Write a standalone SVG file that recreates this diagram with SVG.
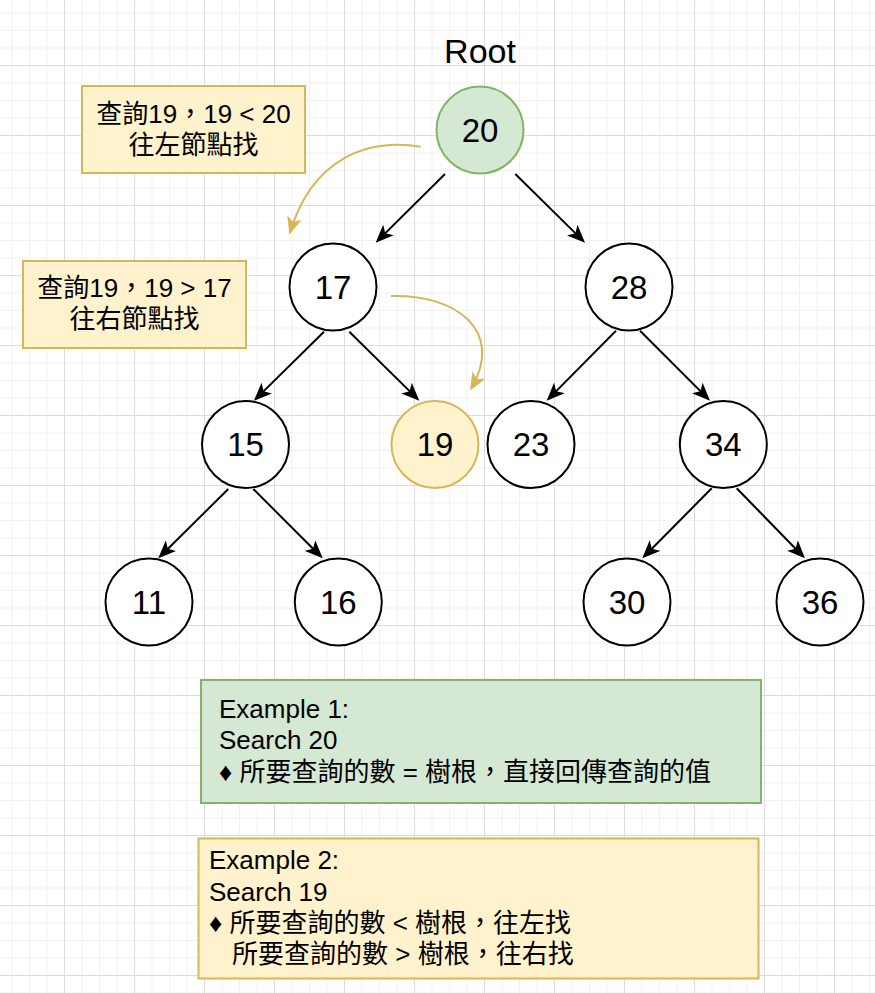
<svg xmlns="http://www.w3.org/2000/svg" width="875" height="993" viewBox="0 0 875 993">
  <defs>
    <style>
      .node { fill: #ffffff; stroke: #000000; stroke-width: 2; }
      .green { fill: #d5e8d4; stroke: #82b366; stroke-width: 2; }
      .yellow { fill: #fff2cc; stroke: #d6b656; stroke-width: 2; }
      .num { font-family: "Liberation Sans", Arial, sans-serif; font-size: 33px; fill: #000; text-anchor: middle; }
      .root { font-size: 34px; }
      .note { font-family: "Liberation Sans", Arial, "Noto Sans CJK TC", sans-serif; font-size: 26px; fill: #000; text-anchor: middle; }
      .body { font-family: "Liberation Sans", Arial, "Noto Sans CJK TC", sans-serif; font-size: 26px; fill: #000; }
      .edge { fill: none; stroke: #000000; stroke-width: 2; marker-end: url(#arrow); }
      .hint { fill: none; stroke: #d6b656; stroke-width: 2; marker-end: url(#arrowY); }
    </style>
    <pattern id="grid" width="70" height="70" patternUnits="userSpaceOnUse" x="64" y="65">
      <path d="M18,0V70M35.5,0V70M53,0V70M0,18H70M0,35.5H70M0,53H70" stroke="#f1f1f1" stroke-width="1" fill="none"/>
      <path d="M0.5,0V70M0,0.5H70" stroke="#dddddd" stroke-width="1" fill="none"/>
    </pattern>
    <marker id="arrow" markerUnits="userSpaceOnUse" viewBox="0 0 18 15" markerWidth="18" markerHeight="15" refX="15" refY="7.5" orient="auto">
      <path d="M0,0 L18,7.5 L0,15 L4.5,7.5 Z" fill="#000000"/>
    </marker>
    <marker id="arrowY" markerUnits="userSpaceOnUse" viewBox="0 0 18 15" markerWidth="18" markerHeight="15" refX="15" refY="7.5" orient="auto">
      <path d="M0,0 L18,7.5 L0,15 L4.5,7.5 Z" fill="#d6b656"/>
    </marker>
  </defs>

  <rect x="0" y="0" width="875" height="993" fill="#ffffff"/>
  <rect x="0" y="0" width="875" height="993" fill="url(#grid)"/>

  <g id="connectors">
    <path class="edge" d="M445,174 L377.8,240.6"/>
    <path class="edge" d="M515.3,174 L582.9,240.6"/>
    <path class="edge" d="M324,331.7 L256.1,398.6"/>
    <path class="edge" d="M349.3,331.7 L417.2,398.6"/>
    <path class="edge" d="M616,330.7 L548.8,398.6"/>
    <path class="edge" d="M640,330.7 L707.9,398.6"/>
    <path class="edge" d="M228.3,489 L160.4,556.2"/>
    <path class="edge" d="M253.3,489 L320.6,556.2"/>
    <path class="edge" d="M711.7,488.3 L644.4,556.2"/>
    <path class="edge" d="M736.7,488.3 L802.9,556.2"/>
    <path class="hint" d="M420.7,146.7 C365,138 312,160 290.2,232"/>
    <path class="hint" d="M391,296 C455,294 505,330 471.5,388"/>
  </g>

  <g id="label-root">
    <text class="num root" x="480" y="62.5">Root</text>
  </g>

  <g id="note-left">
    <rect class="yellow" x="82" y="86" width="223" height="87"/>
    <text class="note" x="193.5" y="122.5">查詢19，19 &lt; 20</text>
    <text class="note" x="193.5" y="153.5">往左節點找</text>
  </g>

  <g id="note-right">
    <rect class="yellow" x="23" y="261" width="223" height="87"/>
    <text class="note" x="134.5" y="296.5">查詢19，19 &gt; 17</text>
    <text class="note" x="134.5" y="327.5">往右節點找</text>
  </g>

  <g id="node-20">
    <circle class="green" cx="480" cy="130" r="43.5"/>
    <text class="num" x="480" y="141.5">20</text>
  </g>
  <g id="node-17">
    <circle class="node" cx="333" cy="287" r="43.5"/>
    <text class="num" x="333" y="298.5">17</text>
  </g>
  <g id="node-28">
    <circle class="node" cx="629" cy="287" r="43.5"/>
    <text class="num" x="629" y="298.5">28</text>
  </g>
  <g id="node-15">
    <circle class="node" cx="245.5" cy="444.5" r="43.5"/>
    <text class="num" x="245.5" y="456">15</text>
  </g>
  <g id="node-19">
    <circle class="yellow" cx="435" cy="444.5" r="43.5"/>
    <text class="num" x="435" y="456">19</text>
  </g>
  <g id="node-23">
    <circle class="node" cx="531" cy="444.5" r="43.5"/>
    <text class="num" x="531" y="456">23</text>
  </g>
  <g id="node-34">
    <circle class="node" cx="723.3" cy="444.5" r="43.5"/>
    <text class="num" x="723.3" y="456">34</text>
  </g>
  <g id="node-11">
    <circle class="node" cx="149" cy="602" r="43.5"/>
    <text class="num" x="149" y="613.5">11</text>
  </g>
  <g id="node-16">
    <circle class="node" cx="338.3" cy="602" r="43.5"/>
    <text class="num" x="338.3" y="613.5">16</text>
  </g>
  <g id="node-30">
    <circle class="node" cx="627" cy="602" r="43.5"/>
    <text class="num" x="627" y="613.5">30</text>
  </g>
  <g id="node-36">
    <circle class="node" cx="820" cy="602" r="43.5"/>
    <text class="num" x="820" y="613.5">36</text>
  </g>

  <g id="example-1">
    <rect class="green" x="201" y="680" width="560" height="123"/>
    <text class="body" x="219" y="717.5">Example 1:</text>
    <text class="body" x="219" y="749">Search 20</text>
    <text class="body" x="219" y="780.5">♦ 所要查詢的數 = 樹根，直接回傳查詢的值</text>
  </g>

  <g id="example-2">
    <rect class="yellow" x="198.5" y="838.5" width="560" height="140"/>
    <text class="body" x="209" y="869">Example 2:</text>
    <text class="body" x="209" y="900.5">Search 19</text>
    <text class="body" x="209" y="932">♦ 所要查詢的數 &lt; 樹根，往左找</text>
    <text class="body" x="232" y="963">所要查詢的數 &gt; 樹根，往右找</text>
  </g>
</svg>
